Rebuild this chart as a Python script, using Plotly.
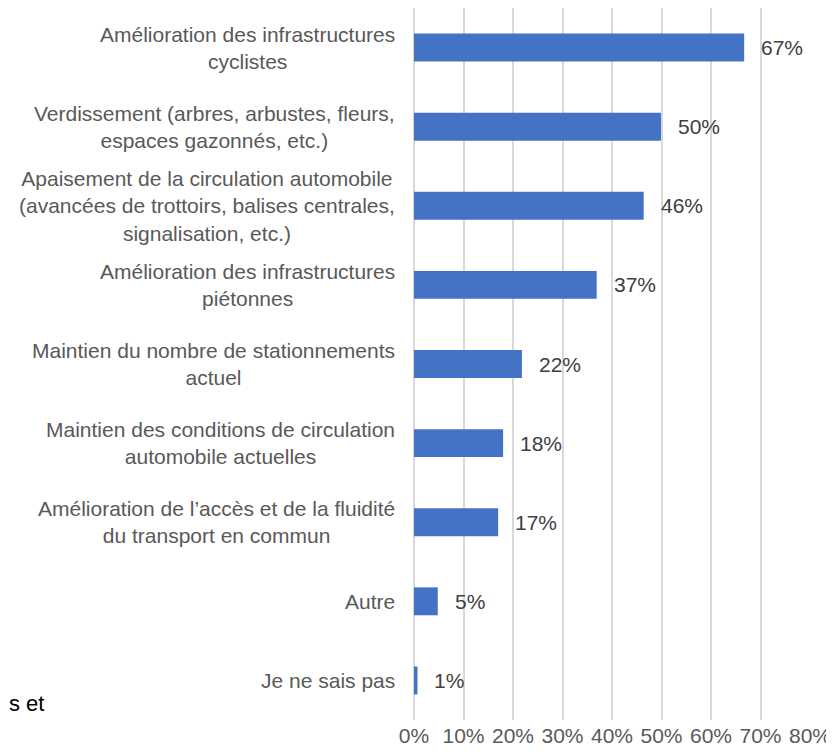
"""
Priorités d'aménagement - barres horizontales
"""
import plotly.graph_objects as go

# Données
categories = [
    "Amélioration des infrastructures<br>cyclistes",
    "Verdissement (arbres, arbustes, fleurs,<br>espaces gazonnés, etc.)",
    "Apaisement de la circulation automobile<br>(avancées de trottoirs, balises centrales,<br>signalisation, etc.)",
    "Amélioration des infrastructures<br>piétonnes",
    "Maintien du nombre de stationnements<br>actuel",
    "Maintien des conditions de circulation<br>automobile actuelles",
    "Amélioration de l’accès et de la fluidité<br>du transport en commun",
    "Autre",
    "Je ne sais pas",
]
values = [0.667, 0.499, 0.464, 0.369, 0.218, 0.180, 0.170, 0.048, 0.007]
value_labels = ["67%", "50%", "46%", "37%", "22%", "18%", "17%", "5%", "1%"]
x_ticks = [0, 0.1, 0.2, 0.3, 0.4, 0.5, 0.6, 0.7, 0.8]
x_tick_labels = ["0%", "10%", "20%", "30%", "40%", "50%", "60%", "70%", "80%"]

BAR_COLOR = "#4472C4"
GRID_COLOR = "#D9D9D9"
FONT = "Liberation Sans, Arial, sans-serif"

# la page html ajoute une marge de 8 px autour de la figure
W, H = 826, 740
ML, MR, MT, MB = 406, 24, 0, 28

fig = go.Figure()

fig.add_trace(go.Bar(
    x=values,
    y=categories,
    orientation="h",
    marker=dict(color=BAR_COLOR, line=dict(width=0)),
    hoverinfo="skip",
))

# Libellés des catégories (centrés, alignés à droite de l'axe)
for cat in categories:
    fig.add_annotation(
        x=0, xref="paper", y=cat, yref="y",
        text=cat, showarrow=False,
        xanchor="right", yanchor="middle", align="center",
        xshift=-17,
        font=dict(family=FONT, size=21, color="#595959"),
    )

# Étiquettes de valeurs
for v, lab, cat in zip(values, value_labels, categories):
    fig.add_annotation(
        x=v, y=cat, text=lab, showarrow=False,
        xanchor="left", yanchor="middle", xshift=15,
        font=dict(family=FONT, size=21, color="#404040"),
    )

# Texte tronqué en bas à gauche
plot_w = W - ML - MR
plot_h = H - MT - MB
fig.add_annotation(
    x=(38 - ML) / plot_w, xref="paper", y=17 / plot_h, yref="paper",
    text="s et", showarrow=False, xanchor="right", yanchor="middle",
    font=dict(family=FONT, size=22, color="#000000"),
)

fig.update_xaxes(
    range=[0, 0.8],
    tickvals=x_ticks,
    ticktext=x_tick_labels,
    showgrid=True, gridcolor=GRID_COLOR, gridwidth=1.5,
    zeroline=True, zerolinecolor=GRID_COLOR, zerolinewidth=1.5,
    showline=False, ticks="",
    tickfont=dict(family=FONT, size=21, color="#595959"),
    ticklabelstandoff=1,
    automargin=False,
    fixedrange=True,
)
fig.update_yaxes(
    autorange="reversed",
    showticklabels=False, showgrid=False, zeroline=False, ticks="",
    automargin=False,
    fixedrange=True,
)

fig.update_layout(
    width=W, height=H,
    margin=dict(l=ML, r=MR, t=MT, b=MB, autoexpand=False),
    bargap=0.647,
    plot_bgcolor="white",
    paper_bgcolor="white",
    showlegend=False,
    font=dict(family=FONT),
)

fig.write_html("out.html")
